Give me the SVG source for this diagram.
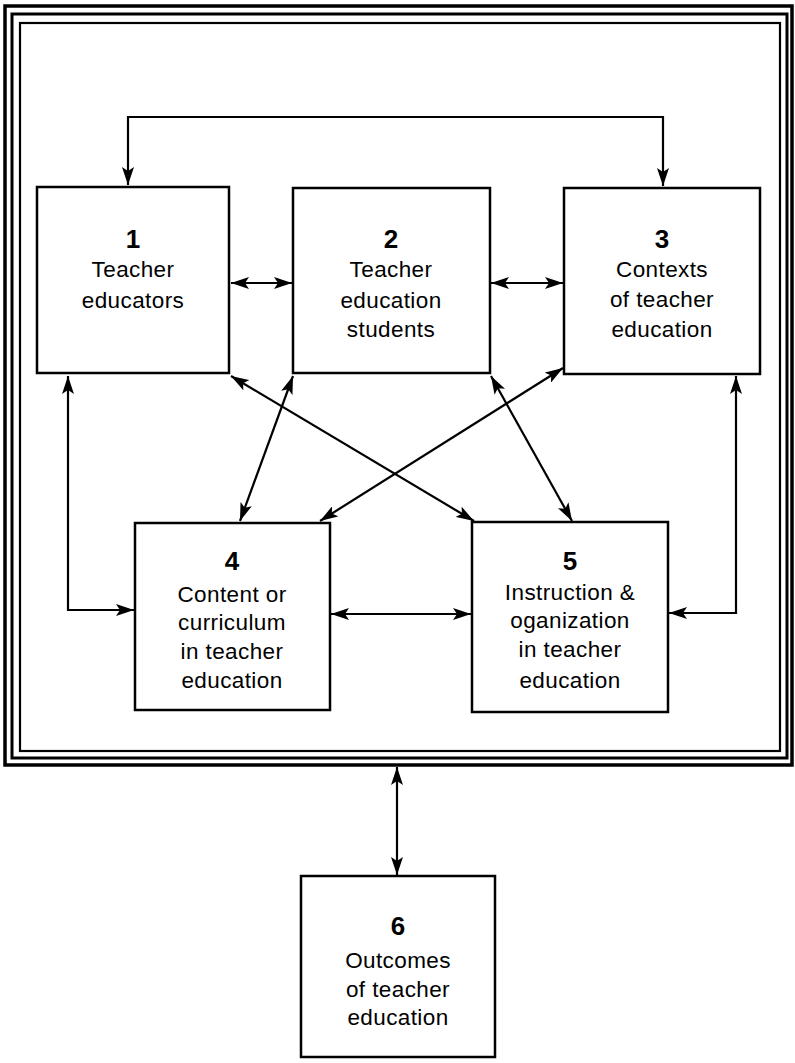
<svg xmlns="http://www.w3.org/2000/svg" width="795" height="1063" viewBox="0 0 795 1063">
<style>
.box{fill:#fff;stroke:#000;stroke-width:2.5}
.frame{fill:none;stroke:#000}
.con{fill:none;stroke:#000;stroke-width:2.2}
.num{font-family:"Liberation Sans",Arial,sans-serif;font-weight:bold;font-size:26px;text-anchor:middle;fill:#000}
.lbl{font-family:"Liberation Sans",Arial,sans-serif;font-size:22.5px;text-anchor:middle;fill:#000;letter-spacing:0.4px}
</style>
<defs>
<marker id="ah" viewBox="0 0 18 12" refX="18" refY="6" markerWidth="18" markerHeight="12" markerUnits="userSpaceOnUse" orient="auto-start-reverse">
<path d="M0,0 L18,6 L0,12 L4,6 z" fill="#000"/>
</marker>
</defs>
<rect width="795" height="1063" fill="#fff"/>
<g id="frame">
<rect class="frame" x="5" y="6" width="787" height="759" stroke-width="3.5"/>
<rect class="frame" x="12" y="14" width="775" height="744" stroke-width="3"/>
<rect class="frame" x="20" y="23" width="760" height="728" stroke-width="2.2"/>
</g>
<g id="connectors">
<path class="con" d="M128,185 V117 H663 V186" marker-start="url(#ah)" marker-end="url(#ah)"/>
<line class="con" x1="231" y1="283" x2="292" y2="283" marker-start="url(#ah)" marker-end="url(#ah)"/>
<line class="con" x1="491" y1="283" x2="563" y2="283" marker-start="url(#ah)" marker-end="url(#ah)"/>
<path class="con" d="M68,376 V610 H134" marker-start="url(#ah)" marker-end="url(#ah)"/>
<path class="con" d="M736,376 V613 H669" marker-start="url(#ah)" marker-end="url(#ah)"/>
<line class="con" x1="331" y1="614" x2="471" y2="614" marker-start="url(#ah)" marker-end="url(#ah)"/>
<line class="con" x1="231" y1="376" x2="474" y2="521" marker-start="url(#ah)" marker-end="url(#ah)"/>
<line class="con" x1="563" y1="368" x2="320" y2="521" marker-start="url(#ah)" marker-end="url(#ah)"/>
<line class="con" x1="293" y1="376" x2="240" y2="521" marker-start="url(#ah)" marker-end="url(#ah)"/>
<line class="con" x1="491" y1="376" x2="572" y2="521" marker-start="url(#ah)" marker-end="url(#ah)"/>
<line class="con" x1="397" y1="767" x2="397" y2="875" marker-start="url(#ah)" marker-end="url(#ah)"/>
</g>
<g id="node1">
<rect class="box" x="37" y="187" width="192" height="186"/>
<text class="num" x="133" y="248">1</text>
<text class="lbl" x="133" y="277">Teacher</text>
<text class="lbl" x="133" y="308">educators</text>
</g>
<g id="node2">
<rect class="box" x="293" y="188" width="197" height="185"/>
<text class="num" x="391" y="248">2</text>
<text class="lbl" x="391" y="277">Teacher</text>
<text class="lbl" x="391" y="308">education</text>
<text class="lbl" x="391" y="337">students</text>
</g>
<g id="node3">
<rect class="box" x="564" y="188" width="196" height="186"/>
<text class="num" x="662" y="248">3</text>
<text class="lbl" x="662" y="277">Contexts</text>
<text class="lbl" x="662" y="307">of teacher</text>
<text class="lbl" x="662" y="337">education</text>
</g>
<g id="node4">
<rect class="box" x="135" y="523" width="195" height="187"/>
<text class="num" x="232" y="570">4</text>
<text class="lbl" x="232" y="602">Content or</text>
<text class="lbl" x="232" y="630">curriculum</text>
<text class="lbl" x="232" y="659">in teacher</text>
<text class="lbl" x="232" y="688">education</text>
</g>
<g id="node5">
<rect class="box" x="472" y="522" width="196" height="190"/>
<text class="num" x="570" y="570">5</text>
<text class="lbl" x="570" y="600">Instruction &amp;</text>
<text class="lbl" x="570" y="628">oganization</text>
<text class="lbl" x="570" y="657">in teacher</text>
<text class="lbl" x="570" y="688">education</text>
</g>
<g id="node6">
<rect class="box" x="301" y="876" width="194" height="181"/>
<text class="num" x="398" y="935">6</text>
<text class="lbl" x="398" y="968">Outcomes</text>
<text class="lbl" x="398" y="997">of teacher</text>
<text class="lbl" x="398" y="1025">education</text>
</g>
</svg>
